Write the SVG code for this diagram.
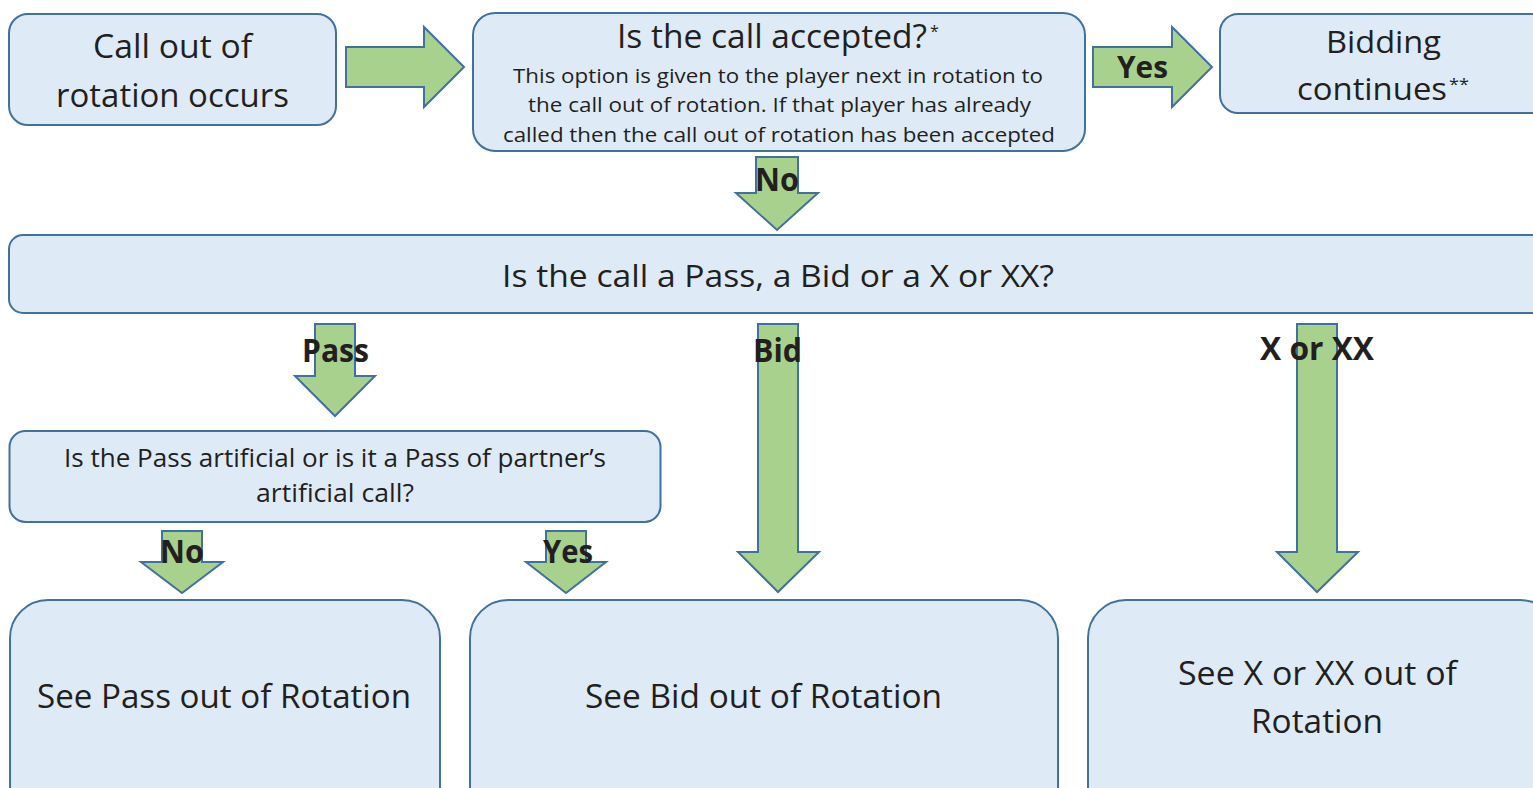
<svg xmlns="http://www.w3.org/2000/svg" width="1533" height="788" viewBox="0 0 1533 788">
<style>
.box{fill:#DEEBF7;stroke:#41719C;stroke-width:2}
.arr{fill:#A9D18E;stroke:#41719C;stroke-width:2;stroke-linejoin:miter}
text{font-family:"Open Sans","Liberation Sans",sans-serif;fill:#231F20;text-anchor:start}
.lbl{font-weight:bold}
</style>
<rect width="1533" height="788" fill="#FFFFFF"/>
<g id="connectors">
<polygon class="arr" points="346,47 424,47 424,27 464,67 424,107 424,87 346,87"/>
<polygon class="arr" points="1093,47 1172,47 1172,27 1212,67 1172,107 1172,87 1093,87"/>
<polygon class="arr" points="756,157 798,157 798,193 818,193 777,230 736,193 756,193"/>
<polygon class="arr" points="315,324 355,324 355,376 375,376 335,416 295,376 315,376"/>
<polygon class="arr" points="758,324 798,324 798,552 819,552 778,592 738,552 758,552"/>
<polygon class="arr" points="1297,324 1337,324 1337,552 1358,552 1317,592 1277,552 1297,552"/>
<polygon class="arr" points="162,531 202,531 202,562 223,562 182,593 141,562 162,562"/>
<polygon class="arr" points="546,531 586,531 586,562 606,562 566,593 526,562 546,562"/>
<text class="lbl" x="1117" y="78" font-size="30" textLength="51" lengthAdjust="spacingAndGlyphs">Yes</text>
<text class="lbl" x="755" y="191" font-size="32" textLength="44" lengthAdjust="spacingAndGlyphs">No</text>
<text class="lbl" x="302" y="362" font-size="32" textLength="67" lengthAdjust="spacingAndGlyphs">Pass</text>
<text class="lbl" x="753" y="362" font-size="32" textLength="49" lengthAdjust="spacingAndGlyphs">Bid</text>
<text class="lbl" x="1260" y="360" font-size="32" textLength="114" lengthAdjust="spacingAndGlyphs">X or XX</text>
<text class="lbl" x="160" y="563" font-size="32" textLength="44" lengthAdjust="spacingAndGlyphs">No</text>
<text class="lbl" x="543" y="563" font-size="32" textLength="50" lengthAdjust="spacingAndGlyphs">Yes</text>
</g>
<g id="n-call-out">
<rect class="box" x="9" y="14" width="327" height="111" rx="19"/>
<text x="93" y="58" font-size="33" textLength="159" lengthAdjust="spacingAndGlyphs">Call out of</text>
<text x="56" y="107" font-size="33" textLength="233" lengthAdjust="spacingAndGlyphs">rotation occurs</text>
</g>
<g id="n-accepted">
<rect class="box" x="473" y="13" width="612" height="138" rx="22"/>
<text x="617" y="48" font-size="32" textLength="310" lengthAdjust="spacingAndGlyphs">Is the call accepted?</text>
<text x="930" y="37" font-size="16">*</text>
<text x="513" y="83" font-size="20" textLength="530" lengthAdjust="spacingAndGlyphs">This option is given to the player next in rotation to</text>
<text x="528" y="112" font-size="20" textLength="503" lengthAdjust="spacingAndGlyphs">the call out of rotation. If that player has already</text>
<text x="503" y="142" font-size="20" textLength="552" lengthAdjust="spacingAndGlyphs">called then the call out of rotation has been accepted</text>
</g>
<g id="n-bidding">
<rect class="box" x="1220" y="14" width="340" height="99" rx="18"/>
<text x="1326" y="53" font-size="31" textLength="115" lengthAdjust="spacingAndGlyphs">Bidding</text>
<text x="1297" y="100" font-size="31" textLength="150" lengthAdjust="spacingAndGlyphs">continues</text>
<text x="1449" y="90" font-size="16" textLength="20" lengthAdjust="spacingAndGlyphs">**</text>
</g>
<g id="n-which">
<rect class="box" x="9" y="235" width="1560" height="78" rx="14"/>
<text x="502" y="287" font-size="31" textLength="552" lengthAdjust="spacingAndGlyphs">Is the call a Pass, a Bid or a X or XX?</text>
</g>
<g id="n-pass-q">
<rect class="box" x="9.5" y="431" width="651" height="91" rx="16"/>
<text x="64" y="467" font-size="25" textLength="542" lengthAdjust="spacingAndGlyphs">Is the Pass artificial or is it a Pass of partner’s</text>
<text x="256" y="502" font-size="25" textLength="158" lengthAdjust="spacingAndGlyphs">artificial call?</text>
</g>
<g id="n-see-pass">
<rect class="box" x="10" y="600" width="430" height="230" rx="38"/>
<text x="37" y="708" font-size="32" textLength="374" lengthAdjust="spacingAndGlyphs">See Pass out of Rotation</text>
</g>
<g id="n-see-bid">
<rect class="box" x="470" y="600" width="588" height="230" rx="38"/>
<text x="585" y="708" font-size="32" textLength="357" lengthAdjust="spacingAndGlyphs">See Bid out of Rotation</text>
</g>
<g id="n-see-x">
<rect class="box" x="1088" y="600" width="470" height="230" rx="38"/>
<text x="1178" y="685" font-size="32" textLength="279" lengthAdjust="spacingAndGlyphs">See X or XX out of</text>
<text x="1251" y="733" font-size="32" textLength="132" lengthAdjust="spacingAndGlyphs">Rotation</text>
</g>
</svg>
